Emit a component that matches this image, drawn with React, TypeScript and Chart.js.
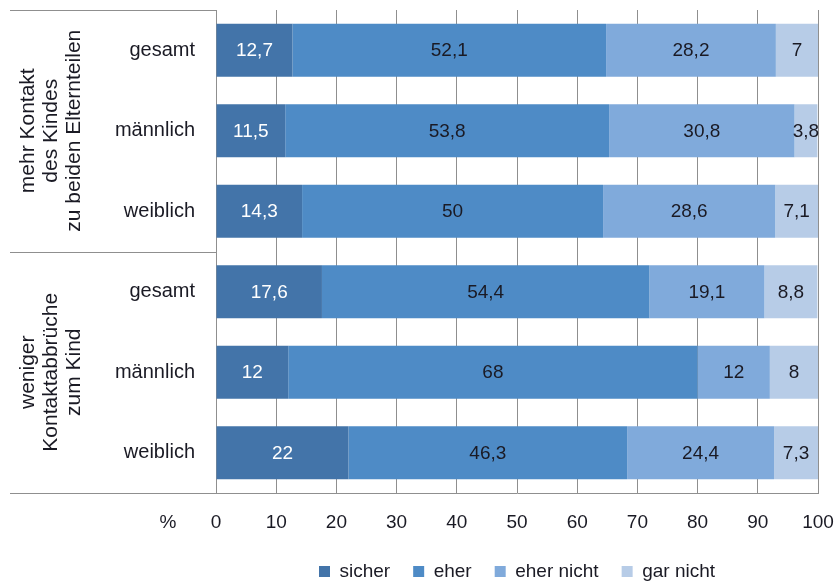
import React, { useEffect, useRef } from 'react';
import { Chart, registerables } from 'chart.js';

Chart.register(...registerables);

const categories = ['gesamt', 'männlich', 'weiblich', 'gesamt', 'männlich', 'weiblich'];
const groupLabels = [
  ['mehr Kontakt', 'des Kindes', 'zu beiden Elternteilen'],
  ['weniger', 'Kontaktabbrüche', 'zum Kind'],
];
const seriesNames = ['sicher', 'eher', 'eher nicht', 'gar nicht'];
const sicher = [12.7, 11.5, 14.3, 17.6, 12, 22];
const eher = [52.1, 53.8, 50, 54.4, 68, 46.3];
const eherNicht = [28.2, 30.8, 28.6, 19.1, 12, 24.4];
const garNicht = [7, 3.8, 7.1, 8.8, 8, 7.3];
const xMin = 0;
const xMax = 100;
const xStep = 10;
const unitLabel = '%';

const COLORS = ['#4374A9', '#4E8BC6', '#80AADB', '#B7CCE7'];
const FONT = '"Liberation Sans", Arial, sans-serif';
const LINE = '#8f8f8f';
const TEXT = '#1a1a24';
const LEGEND_PAD = 23;

const tablePlugin = {
  id: 'tableFrame',
  afterDraw(chart: any) {
    const { ctx, chartArea, scales } = chart;
    const y = scales.y;
    const x = scales.x;
    const mid = (y.getPixelForValue(2) + y.getPixelForValue(3)) / 2;
    ctx.save();
    ctx.strokeStyle = LINE;
    ctx.lineWidth = 1;
    const lines = [chartArea.top, mid, chartArea.bottom];
    lines.forEach((ly: number) => {
      const yy = Math.round(ly) + 0.5;
      ctx.beginPath();
      ctx.moveTo(10, yy);
      ctx.lineTo(chartArea.left, yy);
      ctx.stroke();
    });
    // group labels
    ctx.fillStyle = TEXT;
    ctx.font = '21px ' + FONT;
    ctx.textAlign = 'center';
    ctx.textBaseline = 'middle';
    const centers = [(chartArea.top + mid) / 2, (mid + chartArea.bottom) / 2];
    const xs = [28, 51, 74];
    groupLabels.forEach((lines2, gi) => {
      lines2.forEach((t, li) => {
        ctx.save();
        ctx.translate(xs[li], centers[gi]);
        ctx.rotate(-Math.PI / 2);
        ctx.fillText(t, 0, 0);
        ctx.restore();
      });
    });
    // unit label
    ctx.fillStyle = TEXT;
    ctx.font = '19px ' + FONT;
    ctx.textAlign = 'center';
    ctx.fillText(unitLabel, 168, x.top + 30);
    ctx.restore();
  },
};

const valueLabels = {
  id: 'valueLabels',
  afterDatasetsDraw(chart: any) {
    const { ctx } = chart;
    ctx.save();
    ctx.font = '19px ' + FONT;
    ctx.textAlign = 'center';
    ctx.textBaseline = 'middle';
    chart.data.datasets.forEach((ds: any, di: number) => {
      const meta = chart.getDatasetMeta(di);
      meta.data.forEach((el: any, i: number) => {
        const v = ds.data[i];
        const cx = (el.x + el.base) / 2;
        ctx.fillStyle = di === 0 ? '#ffffff' : TEXT;
        ctx.fillText(String(v).replace('.', ','), cx, el.y + 1);
      });
    });
    ctx.restore();
  },
};

export default function App() {
  const ref = useRef<HTMLCanvasElement | null>(null);
  useEffect(() => {
    document.body.style.margin = '0';
    const canvas = ref.current!;
    const chart = new Chart(canvas, {
      type: 'bar',
      data: {
        labels: categories,
        datasets: [sicher, eher, eherNicht, garNicht].map((d, i) => ({
          label: seriesNames[i],
          data: d,
          backgroundColor: COLORS[i],
          borderWidth: 0,
          barPercentage: 0.66,
          categoryPercentage: 1,
        })),
      },
      options: {
        indexAxis: 'y',
        responsive: false,
        animation: false,
        devicePixelRatio: 1,
        layout: { padding: { top: 10, right: 18, left: 0, bottom: -8 } },
        scales: {
          x: {
            stacked: true,
            min: xMin,
            max: xMax,
            ticks: { stepSize: xStep, color: TEXT, font: { family: FONT, size: 19 }, padding: 18, maxRotation: 0 },
            grid: { color: LINE, drawTicks: false },
            border: { color: LINE },
            afterFit: (s: any) => {
              s.height = 69 - LEGEND_PAD;
              s.paddingLeft = 0;
              s.paddingRight = 0;
            },
          },
          y: {
            stacked: true,
            ticks: { color: TEXT, font: { family: FONT, size: 20 }, padding: 21 },
            grid: { display: false, drawTicks: false },
            border: { color: LINE },
            afterFit: (s: any) => {
              s.width = 216;
              s.paddingTop = 0;
              s.paddingBottom = 0;
            },
          },
        },
        plugins: {
          legend: {
            position: 'bottom',
            fullSize: false,
            labels: {
              boxWidth: 11,
              boxHeight: 11,
              padding: LEGEND_PAD,
              color: TEXT,
              font: { family: FONT, size: 19 },
            },
          },
          tooltip: { enabled: false },
        },
      },
      plugins: [valueLabels, tablePlugin],
    });
    return () => chart.destroy();
  }, []);
  return (
    <div style={{ width: 836, height: 583 }}>
      <canvas ref={ref} width={836} height={583} style={{ width: 836, height: 583, display: 'block' }} />
    </div>
  );
}
